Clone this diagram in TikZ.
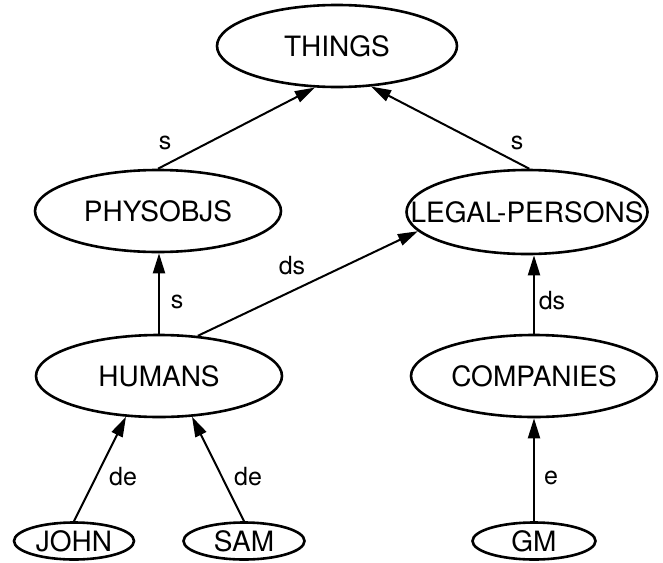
\documentclass[tikz,border=0pt]{standalone}
\usepackage{fontspec}
\setmainfont{TeX Gyre Heros}
\usetikzlibrary{shapes.geometric, arrows.meta}
\begin{document}
\begin{tikzpicture}[x=1pt,y=-1pt,
  ent/.style={ellipse, draw, line width=2.6pt, inner sep=0pt, minimum width=#1, minimum height=82pt},
  leaf/.style={ellipse, draw, line width=2.6pt, inner sep=0pt, minimum width=#1, minimum height=37pt},
  nametxt/.style={font=\fontsize{28}{30}\selectfont, inner sep=0pt},
  lab/.style={font=\fontsize{25}{28}\selectfont, inner sep=0pt},
  arr/.style={line width=2pt, -{Triangle[length=20pt,width=12pt]}}]
\useasboundingbox (0,0) rectangle (663,562);

% ellipses
\node[ent=240pt] (things) at (337,46) {};
\node[ent=246pt] (phys) at (158,211) {};
\node[ent=241pt, minimum height=84pt] (legal) at (527,212) {};
\node[ent=246pt] (humans) at (159,376) {};
\node[ent=246pt] (comp) at (534,376) {};
\node[leaf=120pt] (john) at (74,541) {};
\node[leaf=121pt] (sam) at (244,541) {};
\node[leaf=123pt] (gm) at (534,541) {};

% names
\node[nametxt] (thingsT) at (things) {THINGS};
\node[nametxt] (physT) at (phys) {PHYSOBJS};
\node[nametxt] (legalT) at (legal) {LEGAL-PERSONS};
\node[nametxt] (humansT) at (humans) {HUMANS};
\node[nametxt] (compT) at (comp) {COMPANIES};
\node[nametxt] (johnT) at (john) {JOHN};
\node[nametxt] (samT) at (sam) {SAM};
\node[nametxt] (gmT) at (gm) {GM};

% connectors
\draw[arr] (phys.north) -- (things.242);
\draw[arr] (legal.87) -- (things.310);
\draw[arr] (humans.north) -- (humans.north |- phys.south);
\draw[arr] (humans.46) -- (legal.190);
\draw[arr] (comp.north) -- (comp.north |- legal.south);
\draw[arr] (gm.north) -- (comp.south);
\draw[arr] (john.north) -- (humans.231);
\draw[arr] (sam.north) -- (humans.309);

% edge labels
\node[lab] (l1) at (165,143) {s};
\node[lab] (l2) at (517,143) {s};
\node[lab] (l3) at (177,302) {s};
\node[lab] (l4) at (292,266) {ds};
\node[lab] (l5) at (552,301) {ds};
\node[lab] (l6) at (123,477) {de};
\node[lab] (l7) at (248,477) {de};
\node[lab] (l8) at (551,478) {e};
\end{tikzpicture}
\end{document}
